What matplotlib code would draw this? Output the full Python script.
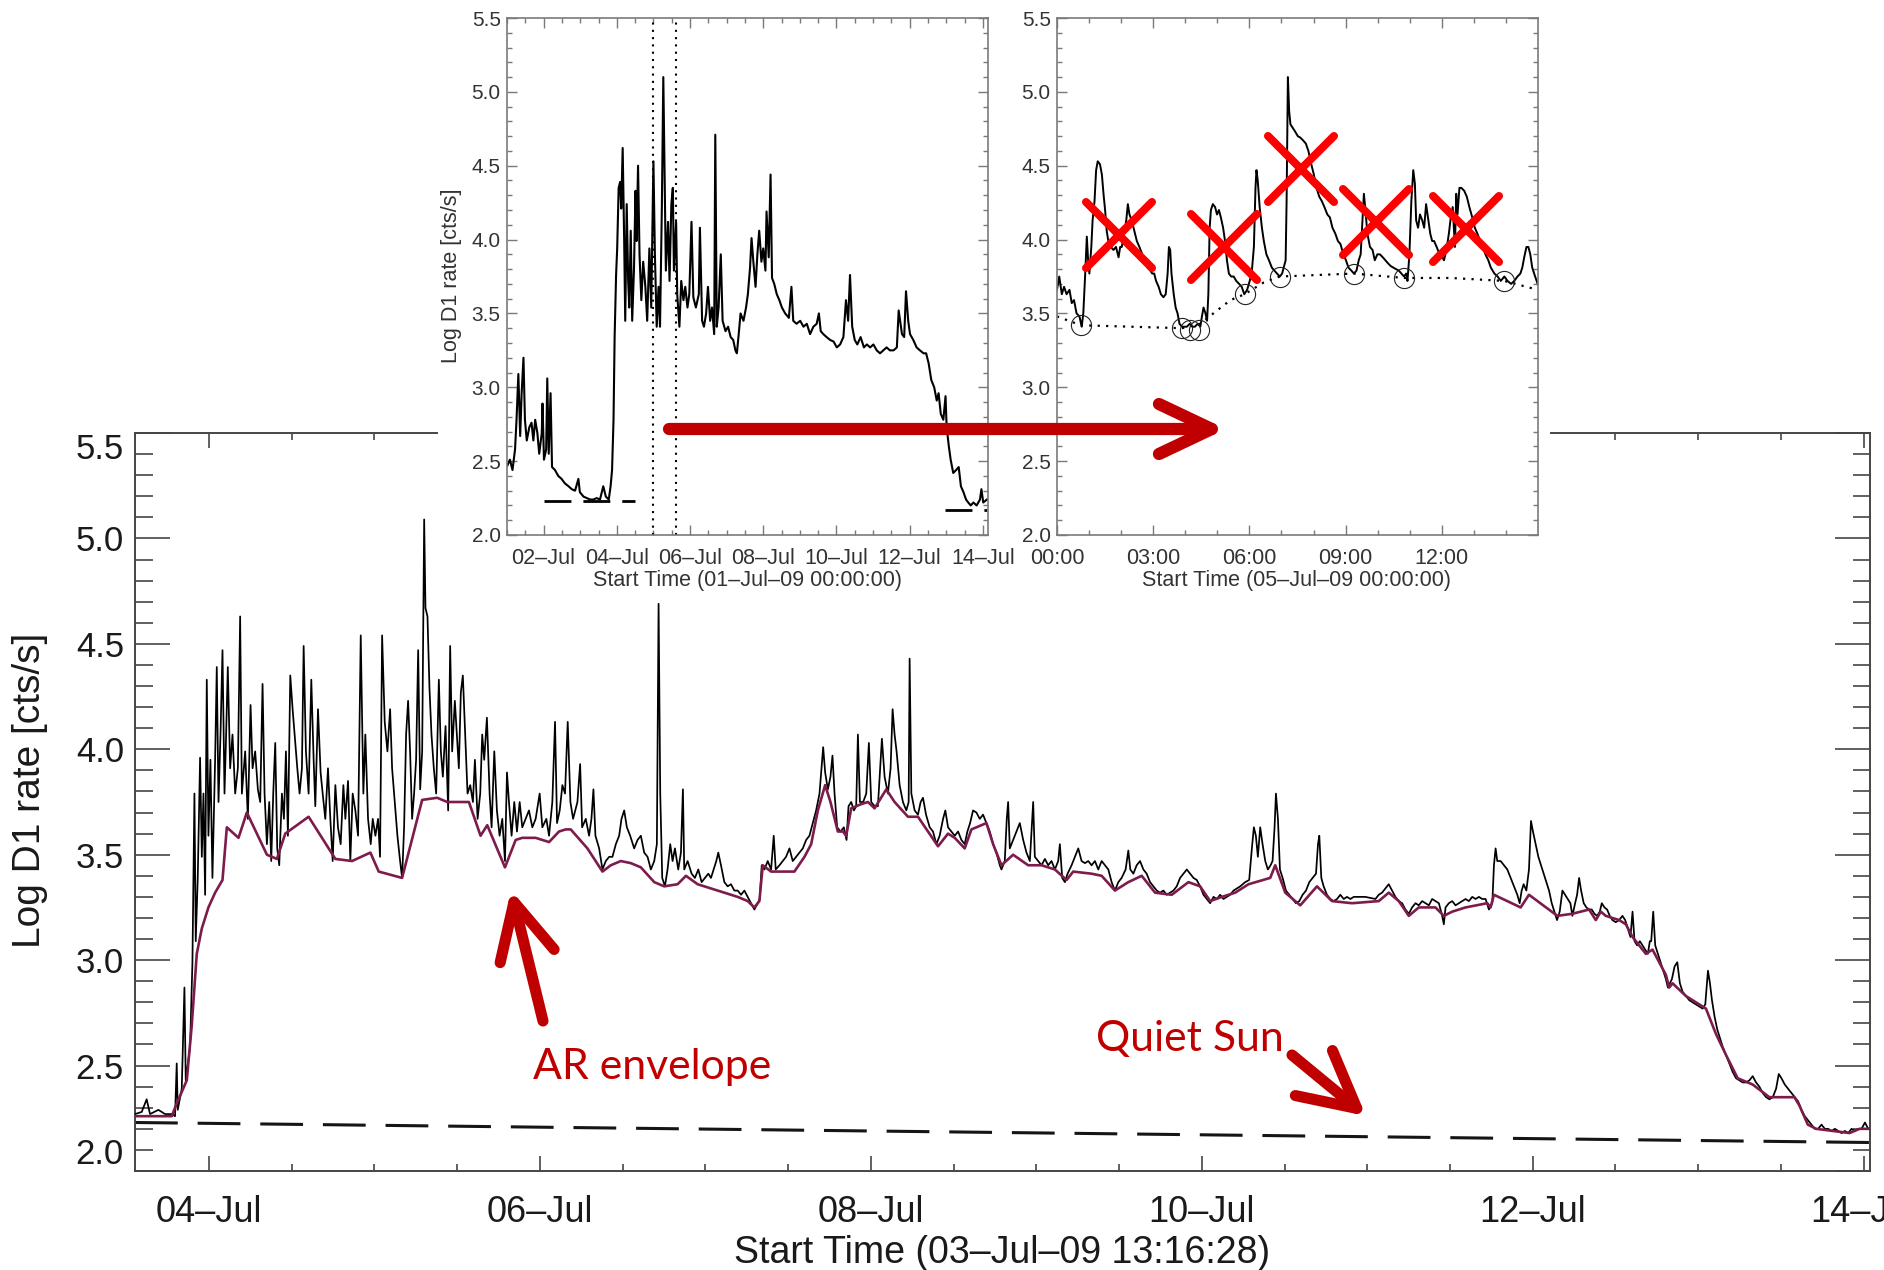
import numpy as np
import matplotlib
matplotlib.use('Agg')
import matplotlib.pyplot as plt
import matplotlib.dates as mdates
from matplotlib.ticker import MultipleLocator
from matplotlib.patches import FancyArrowPatch, Rectangle, ArrowStyle
from matplotlib.markers import MarkerStyle

plt.rcParams['font.family'] = ['Liberation Sans', 'DejaVu Sans']

# ---------------- main panel: hours since 03-Jul-09 13:16:28 ----------------
main_t0 = np.datetime64('2009-07-03T13:16:28')
main_t1 = np.datetime64('2009-07-14T00:55:00')

main_hours = [
    0.00, 0.97, 1.69, 2.18, 3.39, 4.36, 5.33, 5.81, 6.05, 6.20,
    6.78, 7.17, 7.36, 7.99, 8.33, 8.62, 8.81, 9.10, 9.44, 9.69,
    9.93, 10.17, 10.41, 10.65, 10.94, 11.23, 11.62, 11.86, 12.11, 12.40,
    12.69, 12.98, 13.17, 13.46, 13.80, 14.14, 14.53, 14.92, 15.25, 15.50,
    15.98, 16.37, 16.76, 17.05, 17.43, 17.82, 18.16, 18.50, 18.79, 19.13,
    19.47, 19.76, 20.05, 20.34, 20.63, 20.92, 21.31, 21.60, 21.89, 22.18,
    22.52, 22.86, 23.15, 23.54, 23.87, 24.21, 24.46, 24.79, 25.18, 25.57,
    25.91, 26.15, 26.54, 26.92, 27.22, 27.60, 27.99, 28.33, 28.67, 29.06,
    29.44, 29.83, 30.22, 30.51, 30.90, 31.23, 31.57, 31.96, 32.35, 32.74,
    33.12, 33.41, 33.80, 34.19, 34.48, 34.87, 35.25, 35.54, 35.84, 36.22,
    36.61, 37.00, 37.29, 37.68, 38.06, 38.45, 38.74, 39.03, 39.32, 39.61,
    39.90, 40.19, 40.48, 40.77, 41.07, 41.36, 41.65, 41.94, 42.13, 42.42,
    42.71, 43.00, 43.34, 43.68, 44.07, 44.36, 44.65, 45.04, 45.42, 45.71,
    46.00, 46.39, 46.68, 46.97, 47.26, 47.55, 47.84, 48.23, 48.62, 49.01,
    49.30, 49.69, 50.07, 50.36, 50.65, 51.04, 51.43, 51.72, 52.11, 52.49,
    52.88, 53.27, 53.66, 53.95, 54.24, 54.62, 55.01, 55.40, 55.79, 56.17,
    56.66, 57.14, 57.63, 58.11, 58.69, 59.08, 59.66, 60.05, 60.53, 60.92,
    61.21, 61.60, 61.99, 62.37, 62.76, 63.15, 63.54,
    64.17, 64.56, 64.85, 65.38, 65.86, 66.20, 66.49, 66.78, 67.32, 67.80,
    68.28, 68.77, 69.25, 69.74, 70.22, 70.56, 70.95, 71.34, 71.82, 72.40,
    72.89, 73.37, 73.85, 74.34, 74.82, 75.31, 75.69, 75.94, 76.18, 76.47,
    76.86, 77.24, 77.63, 77.97, 78.31, 78.79, 79.18, 79.47, 79.66, 80.15,
    80.73, 81.21, 81.70, 82.18, 82.67, 83.15, 83.54, 83.93, 84.31, 84.60,
    84.99, 85.48, 85.96, 86.44, 86.93, 87.41, 87.90, 88.38, 88.87, 89.35,
    89.83, 90.32, 90.61, 90.90, 91.29, 91.77, 92.26, 92.64, 92.93, 93.47,
    93.95, 94.43, 94.92, 95.40, 95.89, 96.37, 96.86, 97.34, 97.82, 98.31,
    98.79, 99.28, 99.62, 99.81, 100.10, 100.49, 100.87, 101.16, 101.46, 101.84,
    102.33, 102.81, 103.20, 103.49, 103.88, 104.27, 104.60, 104.85, 105.14, 105.62,
    106.06, 106.44, 106.78, 107.27, 107.75, 108.33, 108.72, 109.20, 109.59, 109.88,
    110.17, 110.46, 110.90, 111.38, 111.87, 112.21, 112.35, 112.60, 113.08, 113.56,
    113.95, 114.29, 114.73, 115.26, 115.74, 116.23, 116.71, 117.20, 117.53, 117.92,
    118.41, 118.89, 119.38, 119.86, 120.34, 120.73, 121.12, 121.55, 122.04, 122.52,
    123.00, 123.49, 123.97, 124.46, 124.94, 125.43,
    125.67, 126.15, 126.44, 126.64, 126.88, 127.36, 127.85, 128.33, 128.82, 129.30,
    129.79, 130.27, 130.51, 131.00, 131.48, 131.97, 132.45, 132.93, 133.42, 133.90,
    134.14, 134.48, 134.87, 135.26, 135.84, 136.32, 136.81, 137.29, 137.78, 138.26,
    138.74, 139.23, 139.71, 140.20, 140.68, 141.17, 141.65, 142.13, 142.62, 143.10,
    143.68, 144.07, 144.36, 144.80, 145.28, 145.77, 146.25, 146.73, 147.22, 147.70,
    148.19, 148.67, 149.16, 149.64, 150.13, 150.61, 151.09, 151.58, 152.06, 152.55,
    153.03, 153.52, 154.00, 154.48, 154.97, 155.45, 155.94, 156.42, 156.91, 157.39,
    157.87, 158.36, 158.84, 159.33, 159.81, 160.30, 161.02, 161.60, 161.99, 162.28,
    162.57, 162.86, 163.20, 163.54, 163.93, 164.31, 164.70, 164.99, 165.28, 165.48,
    165.77, 166.06, 166.45, 166.93, 167.41, 167.90, 168.38, 168.87, 169.35, 169.84,
    170.32, 170.80, 171.29, 171.58, 171.77, 172.06, 172.40, 172.88, 173.37, 173.85,
    174.34, 174.82, 175.31, 175.79, 176.27, 176.76, 178.45, 179.91, 180.39, 180.87,
    181.36, 181.84, 182.33, 182.81, 183.30, 183.78, 184.27, 184.75, 185.23, 185.72,
    186.20, 186.69, 187.17, 187.66,
    188.14, 188.62, 189.11, 189.59, 189.83, 190.08, 190.56, 191.05, 191.53, 192.01,
    192.50, 192.98, 193.47, 193.95, 194.44, 194.92, 195.40, 195.89, 196.37, 196.86,
    197.10, 197.34, 197.58, 198.07, 198.55, 199.04, 199.52, 200.00, 200.49, 200.83,
    201.12, 201.41, 201.80, 202.18, 202.47, 202.76, 203.15, 203.54, 203.93, 204.31,
    204.70, 205.09, 205.48, 205.86, 206.25, 206.64, 207.03, 207.41, 207.80, 208.19,
    208.48, 208.87, 209.16, 209.45, 209.74, 210.12, 210.51, 210.90, 211.29, 211.67,
    212.06, 212.45, 212.74, 213.13, 213.51, 213.90, 214.29, 214.77, 215.26, 215.74,
    216.13, 216.52, 216.90, 217.20, 217.49, 217.87, 218.26, 218.65, 219.04, 219.42,
    219.71, 219.91, 220.20, 220.49, 220.88, 221.26, 221.65, 222.04, 222.33, 222.62,
    222.91, 223.30, 223.69, 224.07, 224.46, 224.94, 225.43, 225.91, 226.40, 226.88,
    227.37, 227.75, 228.14, 228.43, 228.72, 229.11, 229.50, 229.88, 230.27, 230.76,
    231.24, 231.72, 232.21, 232.69, 233.18, 233.66, 234.15, 234.63, 235.11, 235.60,
    236.08, 236.57, 237.05, 237.54, 238.02, 238.41, 238.80, 239.28, 239.76, 240.25,
    240.73, 241.22, 241.70, 242.18, 242.67, 243.15, 243.64, 244.12, 244.61, 245.09,
    245.58, 246.06, 246.55, 247.03, 247.51, 248.00, 248.48, 248.97, 249.45, 249.94,
    250.42, 250.91, 251.39, 251.87, 252.07,
]
main_rate = [
    2.27, 2.28, 2.34, 2.27, 2.29, 2.27, 2.27, 2.26, 2.51, 2.29,
    2.39, 2.87, 2.43, 2.59, 2.99, 3.79, 3.09, 3.39, 3.96, 3.49,
    3.79, 3.31, 4.33, 3.59, 3.95, 3.39, 3.95, 4.39, 3.75, 4.07,
    4.47, 3.79, 4.01, 4.39, 3.91, 4.07, 3.79, 3.91, 4.63, 3.79,
    3.99, 3.67, 4.21, 3.91, 3.99, 3.81, 3.75, 4.31, 3.79, 3.55,
    3.75, 3.47, 3.79, 4.03, 3.53, 3.45, 3.79, 3.67, 3.99, 3.59,
    4.35, 4.19, 4.07, 3.91, 3.79, 3.91, 4.49, 3.99, 3.79, 4.33,
    3.95, 3.73, 4.19, 3.89, 3.79, 3.67, 3.91, 3.67, 3.47, 3.83,
    3.63, 3.55, 3.83, 3.67, 3.85, 3.47, 3.79, 3.71, 3.59, 4.54,
    3.79, 4.07, 3.67, 3.55, 3.67, 3.59, 3.67, 3.49, 4.54, 4.13,
    3.99, 4.19, 3.91, 3.75, 3.59, 3.47, 3.39, 3.63, 4.07, 4.23,
    3.99, 3.67, 3.79, 3.95, 4.47, 3.81, 3.99, 5.09, 4.67, 4.63,
    4.29, 4.07, 3.91, 3.79, 4.33, 3.99, 3.87, 4.11, 3.71, 4.49,
    3.99, 4.23, 4.07, 3.91, 4.27, 4.35, 4.11, 3.79, 3.83, 3.75,
    3.95, 3.67, 3.79, 4.07, 3.95, 4.15, 3.79, 3.63, 3.99, 3.71,
    3.59, 3.67, 3.47, 3.89, 3.75, 3.59, 3.75, 3.61, 3.75, 3.63,
    3.67, 3.71, 3.63, 3.67, 3.79, 3.63, 3.67, 3.59, 3.75, 4.13,
    3.65, 3.71, 3.83, 3.79, 4.13, 3.75, 3.67,
    3.75, 3.93, 3.63, 3.67, 3.59, 3.67, 3.81, 3.59, 3.53, 3.43,
    3.47, 3.49, 3.49, 3.55, 3.59, 3.67, 3.71, 3.63, 3.59, 3.53,
    3.57, 3.59, 3.51, 3.49, 3.43, 3.47, 3.55, 4.69, 3.79, 3.39,
    3.35, 3.43, 3.55, 3.47, 3.53, 3.43, 3.51, 3.81, 3.43, 3.47,
    3.41, 3.39, 3.43, 3.37, 3.39, 3.41, 3.39, 3.43, 3.47, 3.51,
    3.45, 3.37, 3.35, 3.36, 3.33, 3.33, 3.31, 3.33, 3.30, 3.27,
    3.24, 3.27, 3.29, 3.45, 3.43, 3.47, 3.43, 3.59, 3.43, 3.45,
    3.47, 3.49, 3.53, 3.47, 3.49, 3.51, 3.53, 3.57, 3.59, 3.65,
    3.71, 3.79, 3.93, 4.01, 3.89, 3.81, 3.87, 3.97, 3.79, 3.63,
    3.61, 3.63, 3.57, 3.73, 3.75, 3.71, 3.73, 4.07, 3.75, 3.75,
    3.79, 4.03, 3.75, 3.73, 3.73, 4.05, 3.87, 3.79, 3.91, 4.19,
    4.07, 3.99, 3.83, 3.75, 3.71, 3.75, 4.43, 3.79, 3.71, 3.69,
    3.75, 3.77, 3.69, 3.63, 3.61, 3.55, 3.59, 3.67, 3.71, 3.63,
    3.61, 3.59, 3.61, 3.57, 3.55, 3.61, 3.65, 3.71, 3.70, 3.67,
    3.69, 3.65, 3.61, 3.55, 3.51, 3.45,
    3.43, 3.47, 3.67, 3.75, 3.53, 3.57, 3.61, 3.65, 3.57, 3.51,
    3.47, 3.75, 3.49, 3.47, 3.45, 3.48, 3.45, 3.47, 3.43, 3.47,
    3.55, 3.39, 3.37, 3.41, 3.45, 3.49, 3.53, 3.47, 3.46, 3.47,
    3.45, 3.47, 3.43, 3.47, 3.45, 3.43, 3.37, 3.33, 3.37, 3.39,
    3.43, 3.52, 3.43, 3.41, 3.45, 3.47, 3.43, 3.41, 3.37, 3.35,
    3.33, 3.32, 3.33, 3.31, 3.32, 3.33, 3.35, 3.39, 3.41, 3.43,
    3.41, 3.39, 3.38, 3.35, 3.31, 3.29, 3.27, 3.30, 3.29, 3.31,
    3.29, 3.30, 3.31, 3.33, 3.34, 3.35, 3.37, 3.38, 3.53, 3.63,
    3.59, 3.49, 3.63, 3.55, 3.47, 3.43, 3.45, 3.47, 3.63, 3.79,
    3.67, 3.43, 3.39, 3.33, 3.31, 3.29, 3.27, 3.28, 3.31, 3.33,
    3.37, 3.39, 3.41, 3.55, 3.59, 3.39, 3.35, 3.31, 3.29, 3.28,
    3.29, 3.31, 3.29, 3.30, 3.29, 3.30, 3.30, 3.29, 3.31, 3.32,
    3.34, 3.36, 3.33, 3.30, 3.28, 3.27, 3.24, 3.22, 3.25, 3.27,
    3.26, 3.28, 3.27, 3.26,
    3.29, 3.28, 3.27, 3.21, 3.17, 3.25, 3.27, 3.28, 3.26, 3.27,
    3.28, 3.29, 3.28, 3.30, 3.29, 3.30, 3.29, 3.29, 3.24, 3.27,
    3.45, 3.53, 3.47, 3.47, 3.45, 3.43, 3.39, 3.35, 3.31, 3.27,
    3.33, 3.36, 3.33, 3.43, 3.66, 3.61, 3.55, 3.49, 3.45, 3.41,
    3.37, 3.33, 3.27, 3.23, 3.19, 3.23, 3.33, 3.31, 3.29, 3.27,
    3.21, 3.27, 3.31, 3.39, 3.33, 3.27, 3.25, 3.24, 3.24, 3.22,
    3.21, 3.23, 3.27, 3.25, 3.24, 3.21, 3.19, 3.18, 3.19, 3.21,
    3.19, 3.15, 3.11, 3.23, 3.09, 3.07, 3.09, 3.07, 3.05, 3.03,
    3.09, 3.09, 3.23, 3.07, 3.03, 2.99, 2.95, 2.91, 2.87, 2.89,
    2.91, 2.97, 2.99, 2.89, 2.85, 2.83, 2.81, 2.80, 2.79, 2.78,
    2.77, 2.79, 2.95, 2.89, 2.81, 2.73, 2.67, 2.63, 2.59, 2.55,
    2.51, 2.47, 2.44, 2.43, 2.42, 2.42, 2.43, 2.45, 2.42, 2.40,
    2.37, 2.35, 2.34, 2.35, 2.39, 2.46, 2.44, 2.41, 2.39, 2.37,
    2.35, 2.33, 2.29, 2.26, 2.24, 2.22, 2.20, 2.20, 2.22, 2.20,
    2.20, 2.19, 2.20, 2.19, 2.18, 2.19, 2.18, 2.20, 2.19, 2.20,
    2.20, 2.23, 2.20, 2.20, 2.20,
]

# AR envelope (lower envelope of the light curve)
env_hours = [
    0.00, 5.33, 6.05, 7.51, 8.23, 8.96, 9.69, 10.65, 11.62, 12.69,
    13.32, 15.01, 16.22, 19.13, 20.58, 21.79, 25.18, 29.06, 31.48, 34.14,
    35.35, 38.74, 41.65, 43.83, 45.28, 48.43, 50.12, 51.09, 53.66, 55.21,
    56.17, 58.11, 60.05, 61.50, 62.47, 63.20, 65.62, 67.80, 69.01, 70.46,
    71.92, 73.37, 75.31, 76.76, 78.70, 79.91, 81.60, 83.54, 85.48, 87.41,
    88.87, 89.83, 90.56, 91.05, 92.26, 94.19, 95.64, 97.10, 98.07, 99.04,
    100.10, 100.87, 101.94, 102.67, 103.15, 103.88, 105.33, 106.30, 107.27, 108.96,
    110.17, 112.11, 113.56, 115.02, 116.47, 117.92, 118.89, 120.34, 121.31, 122.76,
    123.49, 124.46, 125.67, 127.36, 129.54, 131.48, 133.42, 135.11, 136.08, 138.74,
    140.20, 142.13, 144.07, 146.01, 147.95, 150.37, 152.79, 154.48, 155.94, 157.63,
    159.57, 161.50, 164.65, 165.38, 166.83, 169.01, 171.43, 173.61, 176.52, 180.39,
    181.84, 183.30, 184.75, 186.20, 188.62, 189.83, 191.05, 192.98, 196.13, 196.61,
    197.10, 200.97, 202.18, 206.30, 208.48, 210.90, 211.87, 212.60, 213.32, 215.26,
    216.23, 217.20, 219.13, 220.10, 222.04, 222.52, 223.01, 224.94, 227.85, 229.30,
    230.76, 232.45, 234.63, 237.05, 238.99, 240.68, 241.41, 242.62, 243.83, 246.25,
    248.67, 250.13, 252.07,
]
env_rate = [
    2.26, 2.26, 2.32, 2.43, 2.69, 3.03, 3.15, 3.25, 3.32, 3.38,
    3.63, 3.58, 3.70, 3.50, 3.48, 3.60, 3.68, 3.48, 3.47, 3.51,
    3.42, 3.39, 3.76, 3.77, 3.75, 3.75, 3.59, 3.64, 3.44, 3.57,
    3.58, 3.58, 3.56, 3.61, 3.62, 3.62, 3.53, 3.42, 3.45, 3.47,
    3.46, 3.44, 3.37, 3.35, 3.36, 3.40, 3.36, 3.34, 3.32, 3.30,
    3.28, 3.25, 3.28, 3.45, 3.42, 3.42, 3.42, 3.49, 3.55, 3.71,
    3.83, 3.75, 3.61, 3.61, 3.59, 3.72, 3.74, 3.75, 3.72, 3.81,
    3.75, 3.68, 3.68, 3.61, 3.54, 3.60, 3.58, 3.53, 3.62, 3.64,
    3.65, 3.55, 3.45, 3.50, 3.45, 3.45, 3.43, 3.38, 3.42, 3.41,
    3.40, 3.33, 3.37, 3.40, 3.32, 3.31, 3.37, 3.35, 3.28, 3.30,
    3.32, 3.36, 3.39, 3.45, 3.32, 3.26, 3.35, 3.28, 3.27, 3.28,
    3.32, 3.28, 3.21, 3.25, 3.25, 3.21, 3.23, 3.25, 3.27, 3.25,
    3.31, 3.25, 3.31, 3.21, 3.22, 3.24, 3.19, 3.23, 3.21, 3.19,
    3.17, 3.11, 3.03, 3.05, 2.93, 2.87, 2.89, 2.83, 2.77, 2.65,
    2.55, 2.44, 2.41, 2.35, 2.35, 2.35, 2.31, 2.22, 2.20, 2.19,
    2.18, 2.20, 2.20,
]

# quiet-Sun background level
quiet_hours = [0.0, 252.0]
quiet_rate = [2.23, 2.135]

# ---------------- inset 1: days since 01-Jul-09 00:00 ----------------
ov_t0 = np.datetime64('2009-07-01T00:00:00')
ov_span_days = 13.14
ov_days = [
    0.01, 0.08, 0.15, 0.22, 0.26, 0.31, 0.36, 0.40, 0.45, 0.49,
    0.54, 0.61, 0.67, 0.72, 0.77, 0.83, 0.88, 0.95, 0.97, 1.01,
    1.07, 1.10, 1.14, 1.19, 1.23, 1.31, 1.40, 1.49, 1.58, 1.68,
    1.77, 1.86, 1.95, 1.99, 2.09, 2.18, 2.27, 2.36, 2.45, 2.54,
    2.63, 2.70, 2.78, 2.83, 2.87, 2.91, 2.94, 2.98, 3.01, 3.05,
    3.09, 3.12, 3.16, 3.20, 3.23, 3.27, 3.31, 3.34, 3.38, 3.42,
    3.47, 3.51, 3.54, 3.58, 3.62, 3.67, 3.72, 3.78, 3.83, 3.89,
    3.94, 4.00, 4.04, 4.09, 4.14, 4.18, 4.23, 4.27, 4.31, 4.34,
    4.40, 4.44, 4.49, 4.53, 4.56, 4.62, 4.65, 4.71, 4.76, 4.82,
    4.87, 4.93, 4.98, 5.04, 5.09, 5.16, 5.24, 5.27, 5.33, 5.38,
    5.44, 5.49, 5.55, 5.60, 5.66, 5.69, 5.73, 5.78, 5.84, 5.89,
    5.97, 6.04, 6.11, 6.18, 6.24, 6.28, 6.33, 6.38, 6.46, 6.53,
    6.58, 6.64, 6.68, 6.73, 6.79, 6.84, 6.89, 6.95, 7.00, 7.06,
    7.09, 7.15, 7.20, 7.24, 7.30, 7.37, 7.44, 7.51, 7.60, 7.70,
    7.77, 7.82, 7.91, 8.01, 8.10, 8.19, 8.28, 8.37, 8.46, 8.52,
    8.57, 8.64, 8.73, 8.83, 8.92, 9.01, 9.10, 9.19, 9.26, 9.32,
    9.37, 9.43, 9.50, 9.57, 9.66, 9.75, 9.83, 9.92, 10.01, 10.10,
    10.19, 10.28, 10.37, 10.46, 10.56, 10.65, 10.70, 10.74, 10.79, 10.85,
    10.90, 10.96, 11.01, 11.10, 11.19, 11.28, 11.38, 11.45, 11.52, 11.59,
    11.67, 11.74, 11.79, 11.85, 11.92, 11.98, 12.01, 12.07, 12.12, 12.19,
    12.27, 12.34, 12.40, 12.47, 12.54, 12.60, 12.67, 12.74, 12.83, 12.92,
    12.96, 13.01, 13.11,
]
ov_rate = [
    2.47, 2.51, 2.44, 2.58, 2.78, 3.09, 2.67, 2.96, 3.20, 2.78,
    2.64, 2.73, 2.76, 2.64, 2.78, 2.69, 2.55, 2.69, 2.89, 2.51,
    2.58, 3.06, 2.55, 2.96, 2.46, 2.44, 2.40, 2.38, 2.35, 2.33,
    2.31, 2.30, 2.38, 2.29, 2.26, 2.25, 2.24, 2.24, 2.25, 2.24,
    2.33, 2.26, 2.24, 2.33, 2.44, 2.78, 3.34, 3.76, 3.94, 4.35,
    4.39, 4.21, 4.62, 4.01, 3.45, 4.24, 3.72, 3.54, 4.06, 3.45,
    3.81, 4.33, 3.99, 4.50, 3.90, 3.59, 3.85, 3.68, 3.45, 3.94,
    3.54, 4.53, 3.90, 3.41, 3.68, 3.41, 4.21, 5.10, 4.35, 3.79,
    4.12, 3.72, 4.24, 4.35, 3.79, 4.12, 3.63, 3.41, 3.72, 3.59,
    3.68, 3.54, 3.63, 4.12, 3.61, 3.54, 3.63, 4.08, 3.45, 3.41,
    3.50, 3.68, 3.45, 3.54, 3.36, 4.71, 3.41, 3.54, 3.90, 3.45,
    3.38, 3.41, 3.34, 3.32, 3.25, 3.23, 3.36, 3.50, 3.45, 3.54,
    3.63, 3.81, 4.01, 3.85, 3.68, 3.90, 4.06, 3.85, 3.94, 3.79,
    4.19, 3.88, 4.44, 3.74, 3.70, 3.63, 3.59, 3.54, 3.50, 3.47,
    3.68, 3.45, 3.43, 3.45, 3.41, 3.43, 3.36, 3.41, 3.43, 3.50,
    3.38, 3.36, 3.34, 3.32, 3.31, 3.27, 3.29, 3.34, 3.59, 3.45,
    3.76, 3.41, 3.32, 3.29, 3.34, 3.27, 3.29, 3.27, 3.29, 3.25,
    3.23, 3.25, 3.27, 3.25, 3.25, 3.27, 3.52, 3.45, 3.36, 3.34,
    3.65, 3.45, 3.36, 3.32, 3.27, 3.25, 3.23, 3.23, 3.16, 3.05,
    3.00, 2.91, 2.96, 2.82, 2.78, 2.94, 2.73, 2.60, 2.51, 2.42,
    2.44, 2.46, 2.33, 2.29, 2.24, 2.22, 2.20, 2.22, 2.20, 2.24,
    2.31, 2.22, 2.24,
]
ov_quiet_a_days = [1.0, 3.5]
ov_quiet_a_rate = [2.23, 2.23]
ov_quiet_b_days = [11.97, 13.1]
ov_quiet_b_rate = [2.17, 2.17]
zoom_window_days = [4.0, 4.625]

# ---------------- inset 2: hours since 05-Jul-09 00:00 ----------------
zm_t0 = np.datetime64('2009-07-05T00:00:00')
zm_span_hours = 15.0
zm_hours = [
    0.00, 0.07, 0.15, 0.22, 0.30, 0.39, 0.46, 0.53, 0.61, 0.70,
    0.77, 0.82, 0.88, 0.93, 0.97, 1.01, 1.07, 1.11, 1.17, 1.22,
    1.27, 1.34, 1.40, 1.45, 1.50, 1.55, 1.60, 1.68, 1.76, 1.84,
    1.92, 1.97, 2.02, 2.09, 2.16, 2.21, 2.26, 2.33, 2.41, 2.49,
    2.57, 2.66, 2.74, 2.82, 2.91, 2.97, 3.03, 3.09, 3.17, 3.24,
    3.32, 3.39, 3.45, 3.49, 3.53, 3.57, 3.64, 3.70, 3.76, 3.82,
    3.90, 3.97, 4.05, 4.14, 4.22, 4.30, 4.39, 4.47, 4.52, 4.57,
    4.63, 4.68, 4.72, 4.76, 4.80, 4.86, 4.93, 4.99, 5.05, 5.11,
    5.18, 5.24, 5.30, 5.36, 5.43, 5.51, 5.59, 5.68, 5.76, 5.84,
    5.93, 6.01, 6.07, 6.14, 6.19, 6.22, 6.26, 6.32, 6.39, 6.45,
    6.53, 6.61, 6.70, 6.78, 6.86, 6.95, 7.02, 7.07, 7.13, 7.16,
    7.20, 7.24, 7.28, 7.34, 7.43, 7.51, 7.59, 7.68, 7.76, 7.84,
    7.93, 8.01, 8.09, 8.18, 8.26, 8.34, 8.43, 8.51, 8.59, 8.68,
    8.76, 8.84, 8.93, 9.01, 9.09, 9.18, 9.26, 9.34, 9.41, 9.47,
    9.53, 9.57, 9.61, 9.68, 9.76, 9.84, 9.91, 9.99, 10.07, 10.16,
    10.24, 10.32, 10.41, 10.49, 10.57, 10.66, 10.74, 10.82, 10.89, 10.93,
    10.99, 11.05, 11.11, 11.16, 11.20, 11.26, 11.32, 11.39, 11.45, 11.51,
    11.57, 11.64, 11.70, 11.76, 11.84, 11.93, 12.01, 12.07, 12.16, 12.22,
    12.28, 12.34, 12.41, 12.45, 12.49, 12.55, 12.61, 12.70, 12.78, 12.86,
    12.95, 13.03, 13.11, 13.20, 13.28, 13.36, 13.45, 13.53, 13.64, 13.74,
    13.84, 13.95, 14.05, 14.16, 14.26, 14.36, 14.45, 14.51, 14.57, 14.64,
    14.70, 14.76, 14.82, 14.91, 14.99,
]
zm_rate = [
    3.66, 3.75, 3.63, 3.68, 3.63, 3.66, 3.57, 3.59, 3.50, 3.48,
    3.41, 3.50, 3.77, 4.02, 3.86, 3.77, 3.95, 4.13, 4.26, 4.47,
    4.53, 4.51, 4.44, 4.31, 4.20, 4.06, 3.99, 3.95, 3.93, 3.95,
    3.88, 3.95, 3.95, 4.04, 4.13, 4.24, 4.17, 4.13, 4.06, 3.99,
    3.95, 3.90, 3.86, 3.81, 3.79, 3.77, 3.77, 3.72, 3.68, 3.63,
    3.61, 3.63, 3.77, 3.95, 3.93, 3.77, 3.63, 3.54, 3.50, 3.43,
    3.41, 3.41, 3.41, 3.43, 3.41, 3.41, 3.43, 3.41, 3.48, 3.54,
    3.50, 3.45, 3.63, 4.08, 4.20, 4.24, 4.22, 4.17, 4.20, 4.15,
    4.08, 3.99, 3.86, 3.77, 3.75, 3.75, 3.72, 3.70, 3.68, 3.63,
    3.66, 3.72, 3.77, 3.95, 4.35, 4.47, 4.40, 4.22, 4.08, 3.99,
    3.90, 3.86, 3.81, 3.79, 3.77, 3.75, 3.77, 3.81, 3.86, 4.26,
    5.10, 4.87, 4.78, 4.76, 4.73, 4.70, 4.69, 4.67, 4.65, 4.60,
    4.51, 4.44, 4.35, 4.29, 4.26, 4.22, 4.17, 4.15, 4.08, 4.04,
    3.99, 3.97, 3.90, 3.86, 3.81, 3.79, 3.77, 3.79, 3.86, 3.90,
    4.15, 4.31, 4.22, 4.04, 3.95, 3.93, 3.86, 3.90, 3.90, 3.88,
    3.86, 3.84, 3.82, 3.81, 3.80, 3.79, 3.77, 3.75, 3.77, 3.72,
    3.90, 4.26, 4.47, 4.38, 4.13, 4.08, 4.17, 4.13, 4.08, 4.24,
    4.15, 4.04, 3.99, 3.99, 3.95, 3.90, 3.88, 3.86, 3.95, 4.04,
    4.15, 4.22, 3.95, 4.31, 4.17, 4.35, 4.35, 4.33, 4.29, 4.22,
    4.15, 4.08, 4.04, 3.99, 3.95, 3.90, 3.86, 3.81, 3.77, 3.75,
    3.72, 3.75, 3.72, 3.70, 3.72, 3.75, 3.77, 3.81, 3.88, 3.95,
    3.95, 3.90, 3.81, 3.75, 3.70,
]
# background (dotted) through the selected minima, and the minima themselves
zm_env_hours = [0.0, 0.74, 3.90, 4.47, 4.99, 5.41, 5.85, 6.45, 6.95, 8.11, 9.26, 10.82, 12.28, 13.95, 14.99]
zm_env_rate = [3.48, 3.42, 3.40, 3.43, 3.52, 3.59, 3.63, 3.71, 3.75, 3.76, 3.77, 3.74, 3.74, 3.72, 3.66]
zm_min_hours = [0.74, 3.90, 4.16, 4.42, 5.85, 6.95, 9.26, 10.82, 13.95]
zm_min_rate = [3.42, 3.40, 3.39, 3.39, 3.63, 3.75, 3.77, 3.74, 3.72]
# rejected flare intervals (red crosses)
cross_hours = [1.93, 5.22, 7.61, 9.94, 12.75]
cross_rate = [4.03, 3.95, 4.48, 4.12, 4.07]

rate_ticks = [2.0, 2.5, 3.0, 3.5, 4.0, 4.5, 5.0, 5.5]

W, H = 1884, 1270


def box(left, top, right, bottom):
    # pixel box on the canvas -> figure-fraction rect
    return [left / W, 1 - bottom / H, (right - left) / W, (bottom - top) / H]


def fpos(x, y):
    return (x / W, 1 - y / H)


def as_time(t0, values, seconds_per_unit):
    secs = np.round(np.asarray(values, dtype=float) * seconds_per_unit).astype('int64')
    return t0 + secs.astype('timedelta64[s]')


def idl_frame(ax, color, lw):
    for s in ax.spines.values():
        s.set_color(color)
        s.set_linewidth(lw)
    ax.tick_params(which='both', direction='in', top=True, right=True,
                   color=color, width=lw * 0.85)


fig = plt.figure(figsize=(W / 100, H / 100), dpi=100)

# ---------------- main panel ----------------
ax = fig.add_axes(box(135, 433, 1870, 1171))
ax.plot(as_time(main_t0, quiet_hours, 3600), quiet_rate, color='#151515',
        lw=2.2, dashes=(14, 6.5), zorder=2)
ax.plot(as_time(main_t0, main_hours, 3600), main_rate, color='black', lw=1.25, zorder=3)
ax.plot(as_time(main_t0, env_hours, 3600), env_rate, color='#7d1c4c', lw=1.9, zorder=4)
ax.set_xlim(main_t0, main_t1)
ax.set_ylim(2.0, 5.5)
ax.xaxis.set_major_locator(mdates.DayLocator(bymonthday=[4, 6, 8, 10, 12, 14]))
ax.xaxis.set_major_formatter(mdates.DateFormatter('%d\u2013%b'))
ax.xaxis.set_minor_locator(mdates.HourLocator(byhour=[0, 12]))
ax.set_yticks(rate_ticks)
ax.set_yticklabels([f'{v:.1f}' for v in rate_ticks])
ax.yaxis.set_minor_locator(MultipleLocator(0.1))
idl_frame(ax, '#454545', 1.4)
ax.tick_params(axis='y', which='major', length=25, pad=8, labelsize=25, labelcolor='#1a1a1a')
ax.tick_params(axis='y', which='minor', length=12.6)
ax.tick_params(axis='x', which='major', length=10.6, pad=17, labelsize=26, labelcolor='#1a1a1a')
ax.tick_params(axis='x', which='minor', length=5.3)
ax.set_xlabel('Start Time (03\u2013Jul\u201309 13:16:28)', fontsize=27, color='#1a1a1a')
ax.set_ylabel('Log D1 rate [cts/s]', fontsize=28, color='#1a1a1a')
ax.xaxis.set_label_coords(0.5, -0.087)
ax.yaxis.set_label_coords(-0.050, 0.516)
ylabs = ax.get_yticklabels()
ylabs[0].set_va('bottom')
ylabs[-1].set_va('top')

# white card behind the two insets
fig.add_artist(Rectangle(fpos(438, 595), (1550 - 438) / W, 595 / H,
                         transform=fig.transFigure, facecolor='white',
                         edgecolor='none', zorder=1))


def inset_style(a):
    a.set_ylim(2.0, 5.5)
    a.set_yticks(rate_ticks)
    a.set_yticklabels([f'{v:.1f}' for v in rate_ticks])
    a.yaxis.set_minor_locator(MultipleLocator(0.1))
    idl_frame(a, '#7a7a7a', 1.2)
    a.tick_params(axis='y', which='major', length=6.9, pad=4.5, labelsize=15, labelcolor='#333333')
    a.tick_params(axis='y', which='minor', length=3.5)
    a.tick_params(axis='x', which='major', length=7.4, pad=9.5, labelsize=15.5, labelcolor='#333333')
    a.tick_params(axis='x', which='minor', length=3.7)


# ---------------- inset 1: whole period ----------------
ax1 = fig.add_axes(box(507, 18, 988, 535), zorder=2)
ax1.plot(as_time(ov_t0, ov_days, 86400), ov_rate, color='black', lw=1.5)
ax1.plot(as_time(ov_t0, ov_quiet_a_days, 86400), ov_quiet_a_rate, color='black',
         lw=2.0, dashes=(9.7, 4.3))
ax1.plot(as_time(ov_t0, ov_quiet_b_days, 86400), ov_quiet_b_rate, color='black',
         lw=2.0, dashes=(9.7, 4.3))
for d in as_time(ov_t0, zoom_window_days, 86400):
    ax1.axvline(d, color='black', lw=1.5, linestyle=(0, (1, 2.5)))
ax1.set_xlim(ov_t0, as_time(ov_t0, [ov_span_days], 86400)[0])
ax1.xaxis.set_major_locator(mdates.DayLocator(bymonthday=[2, 4, 6, 8, 10, 12, 14]))
ax1.xaxis.set_major_formatter(mdates.DateFormatter('%d\u2013%b'))
ax1.xaxis.set_minor_locator(mdates.HourLocator(byhour=[0, 12]))
inset_style(ax1)
ax1.set_xlabel('Start Time (01\u2013Jul\u201309 00:00:00)', fontsize=15.5, color='#333333')
ax1.set_ylabel('Log D1 rate [cts/s]', fontsize=15.5, color='#333333')
ax1.xaxis.set_label_coords(0.501, -0.068)
ax1.yaxis.set_label_coords(-0.093, 0.502)

# ---------------- inset 2: zoom on 05-Jul ----------------
ax2 = fig.add_axes(box(1057, 18, 1538, 535), zorder=2)
ax2.plot(as_time(zm_t0, zm_hours, 3600), zm_rate, color='black', lw=1.4)
ax2.plot(as_time(zm_t0, zm_env_hours, 3600), zm_env_rate, color='black',
         lw=1.6, linestyle=(0, (1, 2.8)))
ax2.plot(as_time(zm_t0, zm_min_hours, 3600), zm_min_rate, linestyle='none',
         marker='o', ms=14.5, mfc='none', mec='#222222', mew=0.8)
ax2.plot(as_time(zm_t0, cross_hours, 3600), cross_rate, linestyle='none',
         marker=MarkerStyle('x', capstyle='round'), ms=48, mew=5.8,
         color='#ff0000', zorder=6)
ax2.set_xlim(zm_t0, as_time(zm_t0, [zm_span_hours], 3600)[0])
ax2.xaxis.set_major_locator(mdates.HourLocator(byhour=[0, 3, 6, 9, 12]))
ax2.xaxis.set_major_formatter(mdates.DateFormatter('%H:%M'))
ax2.xaxis.set_minor_locator(mdates.HourLocator(byhour=list(range(0, 15))))
inset_style(ax2)
ax2.set_xlabel('Start Time (05\u2013Jul\u201309 00:00:00)', fontsize=15.5, color='#333333')
ax2.xaxis.set_label_coords(0.498, -0.068)


# ---------------- annotations ----------------
def red_arrow(tail, tip, lw, head_len, head_w):
    arrow = FancyArrowPatch(fpos(*tail), fpos(*tip), transform=fig.transFigure,
                            arrowstyle=ArrowStyle('->', head_length=head_len, head_width=head_w),
                            mutation_scale=1, lw=lw, color='#c00000',
                            capstyle='round', joinstyle='round',
                            shrinkA=0, shrinkB=0, zorder=5)
    fig.add_artist(arrow)


red_arrow((669, 429), (1226, 429), 8.8, 38, 18)
red_arrow((543, 1021), (511, 890), 8.0, 40, 20)
red_arrow((1292, 1055), (1366, 1116), 8.0, 40, 21)

fig.text(*fpos(533, 1079), 'AR envelope', fontsize=30.8, family='Lato',
         color='#c00000', ha='left', va='baseline', zorder=5)
fig.text(*fpos(1096, 1051), 'Quiet Sun', fontsize=30.8, family='Lato',
         color='#c00000', ha='left', va='baseline', zorder=5)

fig.savefig('out.png', dpi=100)
